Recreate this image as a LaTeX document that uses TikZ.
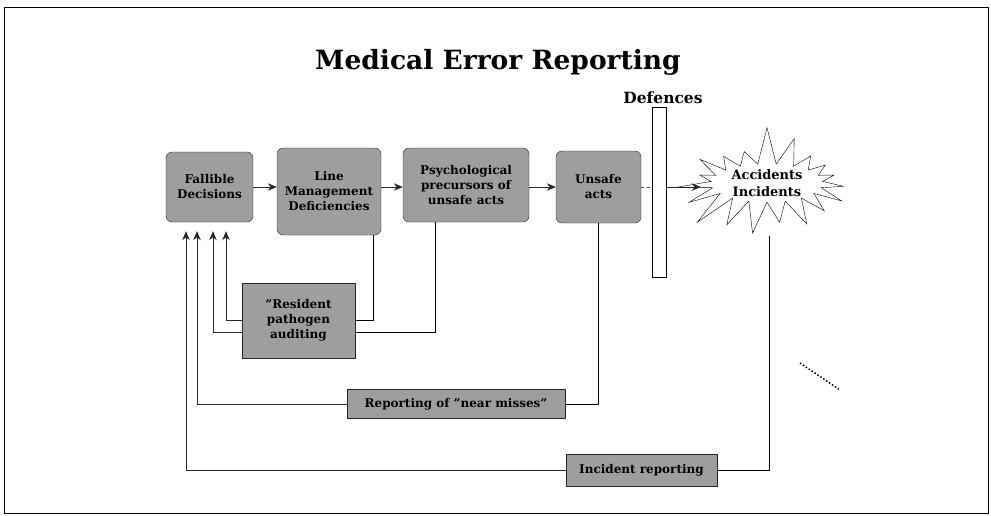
\documentclass[tikz,border=0pt]{standalone}
\usepackage{fontspec}
\setmainfont{DejaVu Serif}
\usepackage{tikz}
\usetikzlibrary{arrows}
\usetikzlibrary{arrows.meta}
\usetikzlibrary{shapes}
\usetikzlibrary{shapes.symbols}
\usetikzlibrary{positioning}

\begin{document}
\begin{tikzpicture}[x=1pt,y=-1pt,>={Stealth[length=9pt,width=7.5pt]},
    stage/.style={draw=black!85, fill=black!38, rounded corners=6pt, align=center,
      font=\bfseries\fontsize{12}{15}\selectfont, inner sep=2pt},
    report/.style={draw=black!85, fill=black!38, align=center,
      font=\bfseries\fontsize{12}{15}\selectfont, inner sep=2pt},
    feed/.style={->, black!85, line width=0.7pt}]
      \useasboundingbox (0,0) rectangle (991,515);
      \draw[line width=0.8pt] (4,7) rectangle (988,513);

      \node[font=\bfseries\fontsize{26.5}{30}\selectfont] (title) at (498,62) {Medical Error Reporting};

      \node[stage, minimum width=87pt, minimum height=70pt] (FD) at (209.5,187) {Fallible\\Decisions};
      \node[stage, minimum width=104pt, minimum height=87pt] (LM) at (329,191.5) {Line\\Management\\Deficiencies};
      \node[stage, minimum width=126pt, minimum height=74pt] (PP) at (466,185) {Psychological\\precursors of\\unsafe acts};
      \node[stage, minimum width=85pt, minimum height=72pt] (UA) at (598.5,187) {Unsafe\\acts};

      \node[draw, fill=white, minimum width=14pt, minimum height=170pt, inner sep=0pt] (DEF) at (659,192) {};
      \node[font=\bfseries\fontsize{15.5}{18}\selectfont] (deflabel) at (663,98) {Defences};

      \node[draw, fill=white, starburst, starburst points=19, starburst point height=40pt,
        random starburst=7, minimum width=192pt, minimum height=112pt, inner sep=0pt, align=center,
        font=\bfseries\fontsize{13}{17}\selectfont] (ACC) at (767,183) {Accidents\\Incidents};
      \coordinate (accB) at (769,236);

      \node[report, minimum width=113pt, minimum height=75pt] (RPA) at (298.5,320.5) {"Resident\\pathogen\\auditing};
      \node[report, minimum width=218pt, minimum height=29pt] (NM) at (456,404) {Reporting of "near misses"};
      \node[report, minimum width=151pt, minimum height=32pt] (IR) at (641.5,470) {Incident reporting};

      % main chain
      \draw[feed] (FD.east) -- (FD.east -| LM.west);
      \draw[feed] (LM.east |- FD.east) -- (FD.east -| PP.west);
      \draw[feed] (PP.east |- FD.east) -- (FD.east -| UA.west);
      \draw[black!70, dashed] (UA.east |- FD.east) -- (FD.east -| DEF.west);
      \draw[feed, line width=0.9pt] (DEF.east |- FD.east) -- (FD.east -| ACC.west);

      % feedback loops
      \draw (LM.south -| 373,0) |- (RPA.east);
      \draw (PP.south -| 435,0) |- ([yshift=-12pt]RPA.east);
      \draw[feed] (RPA.west) -| ([xshift=16.5pt, yshift=-9pt]FD.south);
      \draw[feed] ([yshift=-12pt]RPA.west) -| ([xshift=3.5pt, yshift=-9pt]FD.south);
      \draw (UA.south) |- (NM.east);
      \draw[feed] (NM.west) -| ([xshift=-12.5pt, yshift=-9pt]FD.south);
      \draw (accB) |- (IR.east);
      \draw[feed] (IR.west) -| ([xshift=-23.5pt, yshift=-9pt]FD.south);

      \draw[dotted, line width=1.5pt] (800,363) -- (840,390);
    \end{tikzpicture}
\end{document}
